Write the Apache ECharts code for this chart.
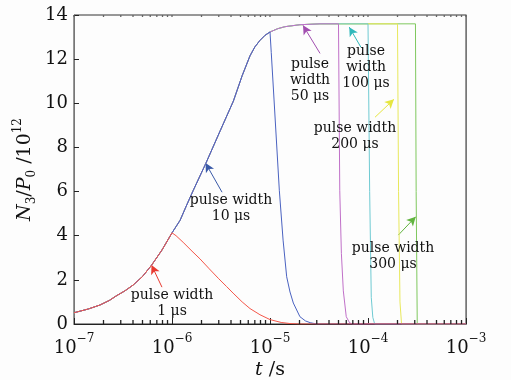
<!DOCTYPE html>
<html><head><meta charset="utf-8">
<script src="https://cdn.jsdelivr.net/npm/echarts@6/dist/echarts.min.js"></script>
<style>html,body{margin:0;padding:0;background:#fdfdfd}#c{width:511px;height:380px}</style>
</head><body><div id="c"></div>
<script>
// shared pumping (growth) curve, t in seconds, N3/P0 in units of 1e12
const growthT = [1e-7, 1.4e-7, 1.84e-7, 2.3e-7, 2.69e-7, 3.3e-7, 4.0e-7, 5.0e-7, 6.2e-7, 7.9e-7, 1e-6, 1.21e-6, 1.4e-6, 1.65e-6, 2.21e-6, 3.1e-6, 4.23e-6, 5.2e-6, 6.25e-6, 7.0e-6, 7.9e-6, 8.9e-6, 1e-5, 1.2e-5, 1.42e-5, 2.02e-5, 3.24e-5];
const growthV = [0.51, 0.68, 0.86, 1.07, 1.27, 1.5, 1.76, 2.15, 2.67, 3.35, 4.13, 4.7, 5.35, 6.06, 7.27, 8.75, 10.1, 11.25, 12.15, 12.55, 12.85, 13.08, 13.23, 13.38, 13.47, 13.56, 13.6];
// decay tails after each pulse ends
const redTailT = [1.1e-6, 1.3e-6, 1.6e-6, 1.93e-6, 2.4e-6, 3e-6, 3.6e-6, 4.2e-6, 5.2e-6, 6.25e-6, 7.9e-6, 1e-5, 1.3e-5, 1.6e-5, 2e-5, 1e-3];
const redTailV = [4.0, 3.7, 3.3, 2.95, 2.5, 2.05, 1.7, 1.4, 1.0, 0.7, 0.42, 0.2, 0.07, 0.02, 0, 0];
const blueTailT = [1.03e-5, 1.1e-5, 1.245e-5, 1.36e-5, 1.48e-5, 1.6e-5, 1.73e-5, 2.02e-5, 2.3e-5, 2.57e-5, 3e-5, 1e-3];
const blueTailV = [12.3, 10.15, 6.06, 3.8, 2.14, 1.45, 0.95, 0.33, 0.14, 0.06, 0, 0];
const purpleTailT = [5e-5, 5.15e-5, 5.35e-5, 5.6e-5, 6e-5, 6.5e-5, 7e-5, 1e-3];
const purpleTailV = [13.6, 6.06, 3.2, 1.5, 0.33, 0.05, 0, 0];
const cyanTailT = [1e-4, 1.04e-4, 1.08e-4, 1.12e-4, 1.17e-4, 1e-3];
const cyanTailV = [13.6, 6.0, 1.2, 0.3, 0, 0];
const yellowTailT = [2e-4, 2.05e-4, 2.12e-4, 2.2e-4, 1e-3];
const yellowTailV = [13.6, 6, 1, 0, 0];
const greenTailT = [3.05e-4, 3.1e-4, 3.18e-4, 1e-3];
const greenTailV = [13.6, 6, 0, 0];

const pulseEnds = [1e-6, 1e-5, 1, 1, 1, 1];
const seriesNames = ['pulse width 1 μs', 'pulse width 10 μs', 'pulse width 50 μs', 'pulse width 100 μs', 'pulse width 200 μs', 'pulse width 300 μs'];
const seriesColors = ['#f4574a', '#4a62c0', '#c070c8', '#6fcad2', '#e8e85c', '#7fc85e'];
const arrowColors = ['#e83a30', '#3a5aa8', '#a24fb0', '#2fb8bb', '#e6e640', '#62b440'];
// annotation arrows: [tailT, tailV, tipT, tipV]
const arrows = [
  [7.9e-7, 1.67, 6.18e-7, 2.67],
  [3.24e-6, 5.97, 2.2e-6, 7.29],
  [3.24e-5, 12.26, 2.17e-5, 13.53],
  [8.49e-5, 12.53, 6.44e-5, 13.45],
  [1.18e-4, 9.37, 1.84e-4, 10.18],
  [2.04e-4, 4.03, 3.07e-4, 4.86]
];
const annoTexts = ['pulse width\n1 μs', 'pulse width\n10 μs', 'pulse\nwidth\n50 μs', 'pulse\nwidth\n100 μs', 'pulse width\n200 μs', 'pulse width\n300 μs'];
const annoPos = [[172, 303], [231, 208], [310, 80], [366, 67], [355, 136], [393, 256]];

const xMajorExps = [-7, -6, -5, -4, -3];
const yTicks = [0, 2, 4, 6, 8, 10, 12, 14];

const tails = [[redTailT, redTailV], [blueTailT, blueTailV], [purpleTailT, purpleTailV], [cyanTailT, cyanTailV], [yellowTailT, yellowTailV], [greenTailT, greenTailV]];

function build(i) {
  const d = [];
  for (let k = 0; k < growthT.length; k++) {
    if (growthT[k] <= pulseEnds[i]) d.push([growthT[k], growthV[k]]);
  }
  const [tt, tv] = tails[i];
  for (let k = 0; k < tt.length; k++) d.push([tt[k], tv[k]]);
  return d;
}

const majorVals = xMajorExps.map(e => Math.pow(10, e));
const minorVals = [];
for (let e = -7; e < -3; e++) for (let m = 2; m <= 9; m++) minorVals.push(m * Math.pow(10, e));

const serif = 'DejaVu Serif';
const chart = echarts.init(document.getElementById('c'));
const series = seriesNames.map((n, i) => ({
  name: n, type: 'line', xAxisIndex: 0, yAxisIndex: 0,
  data: build(i), showSymbol: false, symbol: 'none', z: 20 - i,
  lineStyle: { color: seriesColors[i], width: 1 },
  itemStyle: { color: seriesColors[i] },
  markLine: {
    silent: true, symbol: ['none', 'arrow'], symbolSize: [7, 9], animation: false,
    label: { show: false },
    lineStyle: { color: arrowColors[i], width: 1, type: 'solid' },
    emphasis: { disabled: true },
    data: [[{ coord: [arrows[i][0], arrows[i][1]] }, { coord: [arrows[i][2], arrows[i][3]] }]]
  }
}));

// minor ticks (bottom, inside) and tiny top ticks, placed through the axis scale
function tickSeries(vals, yVal, len, color) {
  return {
    type: 'scatter', xAxisIndex: 0, yAxisIndex: 0, silent: true, z: 30, clip: false,
    data: vals.map(v => [v, yVal]),
    symbol: 'rect', symbolSize: [1.3, len], symbolOffset: [0, yVal === 0 ? -len / 2 : len / 2],
    itemStyle: { color: color, opacity: 1 },
    emphasis: { disabled: true }
  };
}
series.push(tickSeries(minorVals, 0, 4, '#222'));
series.push(tickSeries(minorVals.concat(majorVals), 14, 2, '#666'));

chart.setOption({
  animation: false,
  backgroundColor: '#fdfdfd',
  grid: { left: 74, right: 45, top: 15, bottom: 56, outerBoundsMode: 'none', containLabel: false, show: true, borderColor: '#333', borderWidth: 1, backgroundColor: 'transparent' },
  xAxis: [
    {
      type: 'log', logBase: 10, min: 1e-7, max: 1e-3, position: 'bottom',
      axisLine: { show: true, lineStyle: { color: '#222', width: 1 } },
      axisTick: { show: true, inside: true, length: 6, lineStyle: { color: '#222' } },
      splitLine: { show: false }, minorTick: { show: false },
      axisLabel: {
        margin: 9, color: '#111',
        formatter: v => '{b|10}{s|' + Math.round(Math.log10(v)).toString().replace('-', '−') + '}',
        rich: {
          b: { fontFamily: serif, fontSize: 18, color: '#111', lineHeight: 24, verticalAlign: 'bottom' },
          s: { fontFamily: serif, fontSize: 12, color: '#111', lineHeight: 12, verticalAlign: 'top' }
        }
      },
      name: '{i|t}{n| /s}', nameLocation: 'middle', nameGap: 37, nameMoveOverlap: false,
      nameTextStyle: { rich: {
        i: { fontFamily: serif, fontStyle: 'italic', fontSize: 19, color: '#111' },
        n: { fontFamily: serif, fontSize: 19, color: '#111' }
      } }
    }
  ],
  yAxis: [
    {
      type: 'value', min: 0, max: 14, interval: 2,
      axisLine: { show: true, lineStyle: { color: '#777', width: 1 } },
      axisTick: { show: true, inside: true, length: 5, lineStyle: { color: '#222' } },
      splitLine: { show: false },
      axisLabel: { margin: 6, fontFamily: serif, fontSize: 18, color: '#111' },
      name: '{i|N}{sub|3}{n|/}{i|P}{sub|0}{n| /10}{sup|12}', nameLocation: 'middle', nameGap: 36, nameRotate: 90, nameMoveOverlap: false,
      nameTextStyle: { rich: {
        i: { fontFamily: serif, fontStyle: 'italic', fontSize: 19, color: '#111', lineHeight: 26, verticalAlign: 'middle' },
        n: { fontFamily: serif, fontSize: 19, color: '#111', lineHeight: 26, verticalAlign: 'middle' },
        sub: { fontFamily: serif, fontSize: 12, color: '#111', lineHeight: 12, verticalAlign: 'bottom' },
        sup: { fontFamily: serif, fontSize: 12, color: '#111', lineHeight: 12, verticalAlign: 'top' }
      } }
    },
    {
      type: 'value', min: 0, max: 14, position: 'right',
      axisLine: { show: true, lineStyle: { color: '#777' } }, axisTick: { show: false }, axisLabel: { show: false }, splitLine: { show: false }
    }
  ],
  series: series,
  graphic: annoTexts.map((t, i) => ({
    type: 'text', x: annoPos[i][0], y: annoPos[i][1], z: 100,
    style: { text: t, fontFamily: serif, fontSize: 14, lineHeight: 16, fill: '#111', align: 'center', verticalAlign: 'middle' }
  }))
});
</script></body></html>
